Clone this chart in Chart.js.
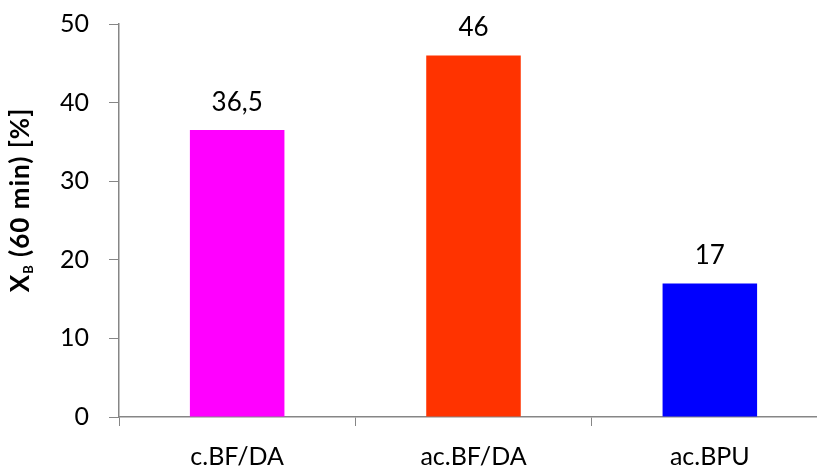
<!DOCTYPE html>
<html>
<head>
<meta charset="utf-8">
<script src="https://cdn.jsdelivr.net/npm/chart.js@4"></script>
<style>
    html, body { margin: 0; padding: 0; background: #fff; overflow: hidden; }
    #wrap { width: 828px; height: 466px; }
</style>
</head>
<body>
<div id="wrap"><canvas id="xbChart"></canvas></div>
<script>
var categories = ['c.BF/DA', 'ac.BF/DA', 'ac.BPU'];
var values = [36.5, 46, 17];
var valueLabels = ['36,5', '46', '17'];
var barColors = ['#ff00ff', '#ff3300', '#0000ff'];
var yTicks = [0, 10, 20, 30, 40, 50];

var FONT = 'Lato, "Open Sans", sans-serif';
var AXIS = '#868686';

// value labels above each bar
var valueLabelPlugin = {
    id: 'valueLabels',
    afterDatasetsDraw: function (chart) {
        var ctx = chart.ctx;
        var meta = chart.getDatasetMeta(0);
        ctx.save();
        ctx.fillStyle = '#000';
        ctx.font = '26px ' + FONT;
        ctx.textAlign = 'center';
        ctx.textBaseline = 'alphabetic';
        meta.data.forEach(function (bar, i) {
            ctx.fillText(valueLabels[i], bar.x, bar.y - 19);
        });
        ctx.restore();
    }
};

// rotated y title with subscript B
var yTitlePlugin = {
    id: 'yTitle',
    afterDraw: function (chart) {
        var ctx = chart.ctx;
        var main = 'bold 26px ' + FONT;
        var sub = 'bold 13px ' + FONT;
        var rest = ' (60 min) [%]';
        ctx.save();
        ctx.letterSpacing = '1px';
        ctx.font = main;
        var wX = ctx.measureText('X').width;
        var wRest = ctx.measureText(rest).width;
        ctx.font = sub;
        var wB = ctx.measureText('B').width;
        var total = wX + wB + wRest;
        ctx.translate(29, 200);
        ctx.rotate(-Math.PI / 2);
        ctx.fillStyle = '#000';
        ctx.textBaseline = 'alphabetic';
        ctx.textAlign = 'left';
        var x = -total / 2;
        ctx.font = main;
        ctx.fillText('X', x, 0);
        x += wX;
        ctx.font = sub;
        ctx.fillText('B', x, 4);
        x += wB;
        ctx.font = main;
        ctx.fillText(rest, x, 0);
        ctx.restore();
    }
};

new Chart(document.getElementById('xbChart'), {
    type: 'bar',
    data: {
        labels: categories,
        datasets: [{
            data: values,
            backgroundColor: barColors,
            borderWidth: 0,
            barPercentage: 0.8,
            categoryPercentage: 0.5
        }]
    },
    options: {
        responsive: true,
        maintainAspectRatio: false,
        animation: false,
        // x scale adds its tick padding twice, so pull the box back out
        layout: { padding: { top: 0, left: 40, right: 0, bottom: -21.5 } },
        plugins: {
            legend: { display: false },
            tooltip: { enabled: false }
        },
        scales: {
            x: {
                grid: { drawOnChartArea: false, drawTicks: true, tickLength: 9, color: AXIS, offset: true },
                border: { display: true, color: AXIS, width: 1.5 },
                ticks: { color: '#000', font: { size: 25, family: FONT, lineHeight: 1.1 }, padding: 17 }
            },
            y: {
                min: 0,
                max: 50,
                afterBuildTicks: function (axis) {
                    axis.ticks = yTicks.map(function (v) { return { value: v }; });
                },
                grid: { drawOnChartArea: false, drawTicks: true, tickLength: 10, color: AXIS },
                border: { display: true, color: AXIS, width: 1.5 },
                // small lineHeight keeps the top label padding tight
                ticks: { color: '#000', font: { size: 25, family: FONT, lineHeight: 0.32 }, padding: 20 }
            }
        }
    },
    plugins: [valueLabelPlugin, yTitlePlugin]
});
</script>
</body>
</html>
